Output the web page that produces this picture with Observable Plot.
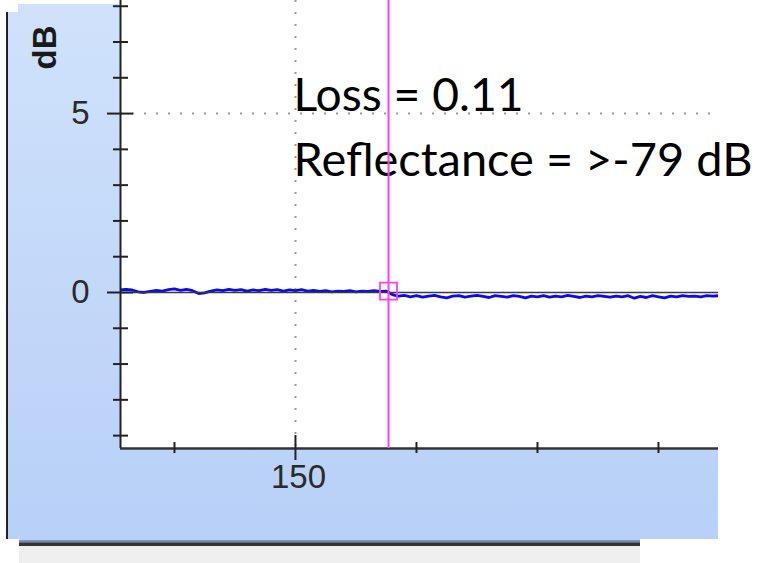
<!DOCTYPE html>
<html><head><meta charset="utf-8">
<script src="https://cdn.jsdelivr.net/npm/d3@7"></script>
<script src="https://cdn.jsdelivr.net/npm/@observablehq/plot@0.6"></script>
<style>
html,body{margin:0;padding:0;background:#fff;width:760px;height:563px;overflow:hidden;position:relative}
#panel{position:absolute;left:8px;top:4px;width:710px;height:539px;background:linear-gradient(180deg,#d0e2fb 0%,#c2d8f9 55%,#b8d0f8 100%)}
#panelCut{position:absolute;left:8px;top:0;width:10px;height:12px;background:#fff}
#leftEdge{position:absolute;left:6px;top:12px;width:2px;height:531px;background:#222}
#bottomShade{position:absolute;left:19px;top:540px;width:621px;height:3px;background:linear-gradient(180deg,#8ea3c2,#56657c)}
#bottomEdge{position:absolute;left:19px;top:543px;width:621px;height:3px;background:#333}
#status{position:absolute;left:19px;top:546px;width:621px;height:17px;background:#efefef}
#rightCut{position:absolute;left:640px;top:539px;width:120px;height:24px;background:#fff}
#leftCut{position:absolute;left:0;top:539px;width:19px;height:24px;background:#fff}
#chart{position:absolute;left:0;top:0}
</style></head><body>
<div id="panel"></div><div id="panelCut"></div><div id="leftEdge"></div>
<div id="bottomShade"></div><div id="bottomEdge"></div><div id="status"></div>
<div id="rightCut"></div><div id="leftCut"></div>
<div id="chart"></div>
<script>
// ---- data ----
const xDomain = [135.54, 184.96];
const yDomain = [-4.36, 8.16];
const traceStart = 135.5;
const traceStep = 0.5;
const traceDb = [
  0.07, 0.09, 0.07, 0.02, 0.00, 0.03, 0.06, 0.04, 0.08, 0.10,
  0.06, 0.09, 0.05, -0.03, -0.01, 0.04, 0.07, 0.05, 0.09, 0.06,
  0.08, 0.04, 0.07, 0.05, 0.09, 0.06, 0.08, 0.04, 0.07, 0.05,
  0.08, 0.04, 0.06, 0.03, 0.05, 0.02, 0.04, 0.03, 0.05, 0.02,
  0.04, 0.03, 0.05, 0.03, 0.04,
  -0.06, -0.10, -0.08, -0.12, -0.09, -0.13, -0.10, -0.08, -0.12, -0.15,
  -0.10, -0.09, -0.13, -0.10, -0.08, -0.11, -0.14, -0.09, -0.11, -0.13,
  -0.09, -0.11, -0.15, -0.10, -0.12, -0.09, -0.13, -0.10, -0.12, -0.08,
  -0.11, -0.14, -0.10, -0.12, -0.09, -0.11, -0.13, -0.10, -0.12, -0.09,
  -0.16, -0.11, -0.14, -0.09, -0.12, -0.15, -0.10, -0.12, -0.09, -0.11,
  -0.10, -0.12, -0.09, -0.10, -0.09
];
const markerDistance = [157.69];
const markerDb = [0.04];
const xMajorTicks = [150];
const xMinorTicks = [140, 160, 170, 180];
const yMajorTicks = [0, 5];
const yMinorTicks = [-4, -3, -2, -1, 1, 2, 3, 4, 6, 7, 8];
const xGrid = [150];
const yGrid = [5];
const zeroLevel = [0];
const yLabel = ["dB"];
const lossLabel = ["Loss = 0.11"];
const reflLabel = ["Reflectance = >-79 dB"];

const trace = traceDb.map((db, i) => ({distance: traceStart + i * traceStep, db}));
const marker = markerDistance.map((d, i) => ({distance: d, db: markerDb[i]}));

const blank = () => "";
const axisFont = "Liberation Sans, Arial, sans-serif";
const annFont = "Lato, 'Open Sans', sans-serif";

const chart = Plot.plot({
  width: 760,
  height: 563,
  marginLeft: 120,
  marginRight: 42,
  marginTop: 0,
  marginBottom: 115,
  style: {background: "transparent", overflow: "visible"},
  x: {domain: xDomain},
  y: {domain: yDomain},
  marks: [
    Plot.frame({fill: "white", stroke: null}),
    Plot.ruleX(xGrid, {stroke: "#9a9a9a", strokeWidth: 2, strokeDasharray: "2,10"}),
    Plot.ruleY(yGrid, {stroke: "#9a9a9a", strokeWidth: 2, strokeDasharray: "2,10"}),
    Plot.line(trace, {x: "distance", y: "db", stroke: "#0a0aee", strokeWidth: 2.8, clip: true}),
    Plot.ruleY(zeroLevel, {stroke: "#3a3a3a", strokeWidth: 1.6}),
    // axis lines
    Plot.ruleX([xDomain[0]], {stroke: "#222", strokeWidth: 2}),
    Plot.ruleY([yDomain[0]], {stroke: "#333", strokeWidth: 2.5}),
    // y ticks
    Plot.axisY({ticks: yMinorTicks, tickSize: 15, dx: 8, tickFormat: blank, stroke: "#222", strokeWidth: 2, label: null}),
    Plot.axisY({ticks: yMajorTicks, tickSize: 26, dx: 13, tickFormat: blank, stroke: "#222", strokeWidth: 2, label: null}),
    Plot.axisY({ticks: yMajorTicks, tickSize: 0, tickPadding: 31, fontSize: 33, fontFamily: axisFont, fill: "#2a2a2a", label: null}),
    // x ticks
    Plot.axisX({ticks: xMinorTicks, tickSize: 11, dy: -6, tickFormat: blank, stroke: "#222", strokeWidth: 2, label: null}),
    Plot.axisX({ticks: xMajorTicks, tickSize: 25, dy: -13, tickFormat: blank, stroke: "#222", strokeWidth: 2, label: null}),
    Plot.axisX({ticks: xMajorTicks, tickSize: 0, tickPadding: 16, dx: 3, fontSize: 33, fontFamily: axisFont, fill: "#2a2a2a", label: null}),
    // y label
    Plot.text(yLabel, {frameAnchor: "top-left", dx: -88, dy: 47, rotate: -90, textAnchor: "middle", fontWeight: "bold", fontSize: 33, fontFamily: axisFont, fill: "#1a1a1a"}),
    // annotations
    Plot.text(lossLabel, {frameAnchor: "top-left", dx: 173, dy: 110, lineAnchor: "bottom", textAnchor: "start", fontSize: 46, fontFamily: annFont, fill: "#000"}),
    Plot.text(reflLabel, {frameAnchor: "top-left", dx: 173, dy: 175, lineAnchor: "bottom", textAnchor: "start", fontSize: 46, fontFamily: annFont, fill: "#000"}),
    // marker
    Plot.ruleX(markerDistance, {stroke: "#ff3cff", strokeWidth: 2}),
    Plot.dot(marker, {x: "distance", y: "db", symbol: "square", r: 9.6, stroke: "#ff3cff", strokeWidth: 1.8, fill: "none"})
  ]
});
document.getElementById("chart").appendChild(chart);
for (const t of chart.querySelectorAll("text")) {
  if (t.textContent === lossLabel[0]) { t.setAttribute("textLength", 230); t.setAttribute("lengthAdjust", "spacingAndGlyphs"); }
  if (t.textContent === reflLabel[0]) { t.setAttribute("textLength", 459); t.setAttribute("lengthAdjust", "spacingAndGlyphs"); }
}
</script>
</body></html>
